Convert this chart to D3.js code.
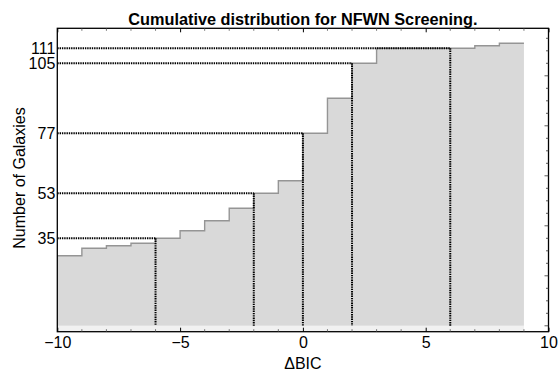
<!DOCTYPE html>
<html>
<head>
<meta charset="utf-8">
<script src="https://cdn.jsdelivr.net/npm/d3@7"></script>
<style>
  html, body { margin: 0; padding: 0; background: #fff; }
  svg { display: block; font-family: "Liberation Sans", Arial, sans-serif; }
</style>
</head>
<body>
<svg id="chart" width="558" height="374"></svg>
<script>
// Cumulative galaxy counts per unit ΔBIC bin (value holds from bin start to the next bin)
const binStarts = [-10, -9, -8, -7, -6, -5, -4, -3, -2, -1, 0, 1, 2, 3, 4, 5, 6, 7, 8];
const cumulativeCounts = [28, 31, 32, 33, 35, 38, 42, 47, 53, 58, 77, 91, 105, 111, 111, 111, 111, 112, 113];
const lastBinEnd = 9;

// ΔBIC thresholds and the cumulative count reached at each one
const thresholdX = [-6, -2, 0, 2, 6];
const thresholdCount = [35, 53, 77, 105, 111];

// Axis ticks
const xTickValues = [-10, -5, 0, 5, 10];
const xMinorTicks = d3.range(-10, 11, 1);
const yTickValues = [35, 53, 77, 105, 111];
const yRightTicks = d3.range(0, 120, 5);

const titleText = "Cumulative distribution for NFWN Screening.";
const xLabel = "ΔBIC";
const yLabel = "Number of Galaxies";

const svg = d3.select("#chart");
const frame = { left: 57.3, right: 548.5, top: 28.3, bottom: 331.7 };

const x = d3.scaleLinear().domain([-10, 10]).range([frame.left, frame.right]);
const y = d3.scaleLinear().domain([-2.36, 119]).range([frame.bottom, frame.top]);

const steps = binStarts.map((b, i) => ({ x: b, y: cumulativeCounts[i] }));
steps.push({ x: lastBinEnd, y: cumulativeCounts[cumulativeCounts.length - 1] });

// faint band below the zero baseline
svg.append("rect")
  .attr("x", x(binStarts[0]))
  .attr("y", y(0))
  .attr("width", x(lastBinEnd) - x(binStarts[0]))
  .attr("height", y(y.domain()[0]) - y(0))
  .attr("fill", "#f1f1f1");

// filled cumulative area
const area = d3.area()
  .curve(d3.curveStepAfter)
  .x(d => x(d.x))
  .y0(y(0))
  .y1(d => y(d.y));

svg.append("path")
  .datum(steps)
  .attr("d", area)
  .attr("fill", "#d9d9d9")
  .attr("stroke", "none");

// step outline
const line = d3.line()
  .curve(d3.curveStepAfter)
  .x(d => x(d.x))
  .y(d => y(d.y));

svg.append("path")
  .datum(steps)
  .attr("d", line)
  .attr("fill", "none")
  .attr("stroke", "#959595")
  .attr("stroke-width", 1.4);

// dotted threshold guides
const guides = svg.append("g")
  .attr("stroke", "#000")
  .attr("stroke-width", 2)
  .attr("stroke-dasharray", "1.4,0.9")
  .attr("fill", "none");

thresholdX.forEach((tx, i) => {
  const c = thresholdCount[i];
  guides.append("line")
    .attr("x1", x(-10)).attr("x2", x(tx))
    .attr("y1", y(c)).attr("y2", y(c));
  guides.append("line")
    .attr("x1", x(tx)).attr("x2", x(tx))
    .attr("y1", y(c)).attr("y2", y(0));
});

// frame
svg.append("rect")
  .attr("x", frame.left)
  .attr("y", frame.top)
  .attr("width", frame.right - frame.left)
  .attr("height", frame.bottom - frame.top)
  .attr("fill", "none")
  .attr("stroke", "#000")
  .attr("stroke-width", 1.3);

// bottom axis with labels
const bottomAxis = svg.append("g")
  .attr("transform", `translate(0,${frame.bottom})`)
  .call(d3.axisBottom(x).tickValues(xTickValues).tickSize(-4).tickPadding(5).tickFormat(d3.format("d")));
bottomAxis.select(".domain").remove();
bottomAxis.selectAll("text").attr("font-size", 16).attr("fill", "#000")
  .attr("font-family", "'Liberation Sans', Arial, sans-serif");

// minor ticks on bottom and top
const minorB = svg.append("g").attr("stroke", "#555").attr("stroke-width", 0.8);
xMinorTicks.filter(v => !xTickValues.includes(v)).forEach(v => {
  minorB.append("line").attr("x1", x(v)).attr("x2", x(v))
    .attr("y1", frame.bottom).attr("y2", frame.bottom - 2.5);
  minorB.append("line").attr("x1", x(v)).attr("x2", x(v))
    .attr("y1", frame.top).attr("y2", frame.top + 2.5);
});
const topAxis = svg.append("g")
  .attr("transform", `translate(0,${frame.top})`)
  .call(d3.axisTop(x).tickValues(xTickValues).tickSize(-4).tickFormat(""));
topAxis.select(".domain").remove();

// left axis with the threshold counts
const leftAxis = svg.append("g")
  .attr("transform", `translate(${frame.left},0)`)
  .call(d3.axisLeft(y).tickValues(yTickValues).tickSize(0).tickPadding(2).tickFormat(d3.format("d")));
leftAxis.select(".domain").remove();
leftAxis.selectAll("text").attr("font-size", 16).attr("fill", "#000")
  .attr("font-family", "'Liberation Sans', Arial, sans-serif");

// right side ticks, unlabeled
const rightTicks = svg.append("g").attr("stroke", "#333").attr("stroke-width", 0.8);
yRightTicks.forEach(v => {
  const len = v % 20 === 0 ? 4 : 2.5;
  rightTicks.append("line")
    .attr("x1", frame.right).attr("x2", frame.right - len)
    .attr("y1", y(v)).attr("y2", y(v));
});

// title and axis labels
svg.append("text")
  .attr("x", (frame.left + frame.right) / 2)
  .attr("y", 24.5)
  .attr("text-anchor", "middle")
  .attr("font-size", 16.3)
  .attr("font-weight", "bold")
  .text(titleText);

svg.append("text")
  .attr("x", (frame.left + frame.right) / 2)
  .attr("y", 369)
  .attr("text-anchor", "middle")
  .attr("font-size", 16)
  .text(xLabel);

svg.append("text")
  .attr("transform", `translate(24.5,${(frame.top + frame.bottom) / 2 - 2}) rotate(-90)`)
  .attr("text-anchor", "middle")
  .attr("font-size", 16)
  .text(yLabel);
</script>
</body>
</html>
